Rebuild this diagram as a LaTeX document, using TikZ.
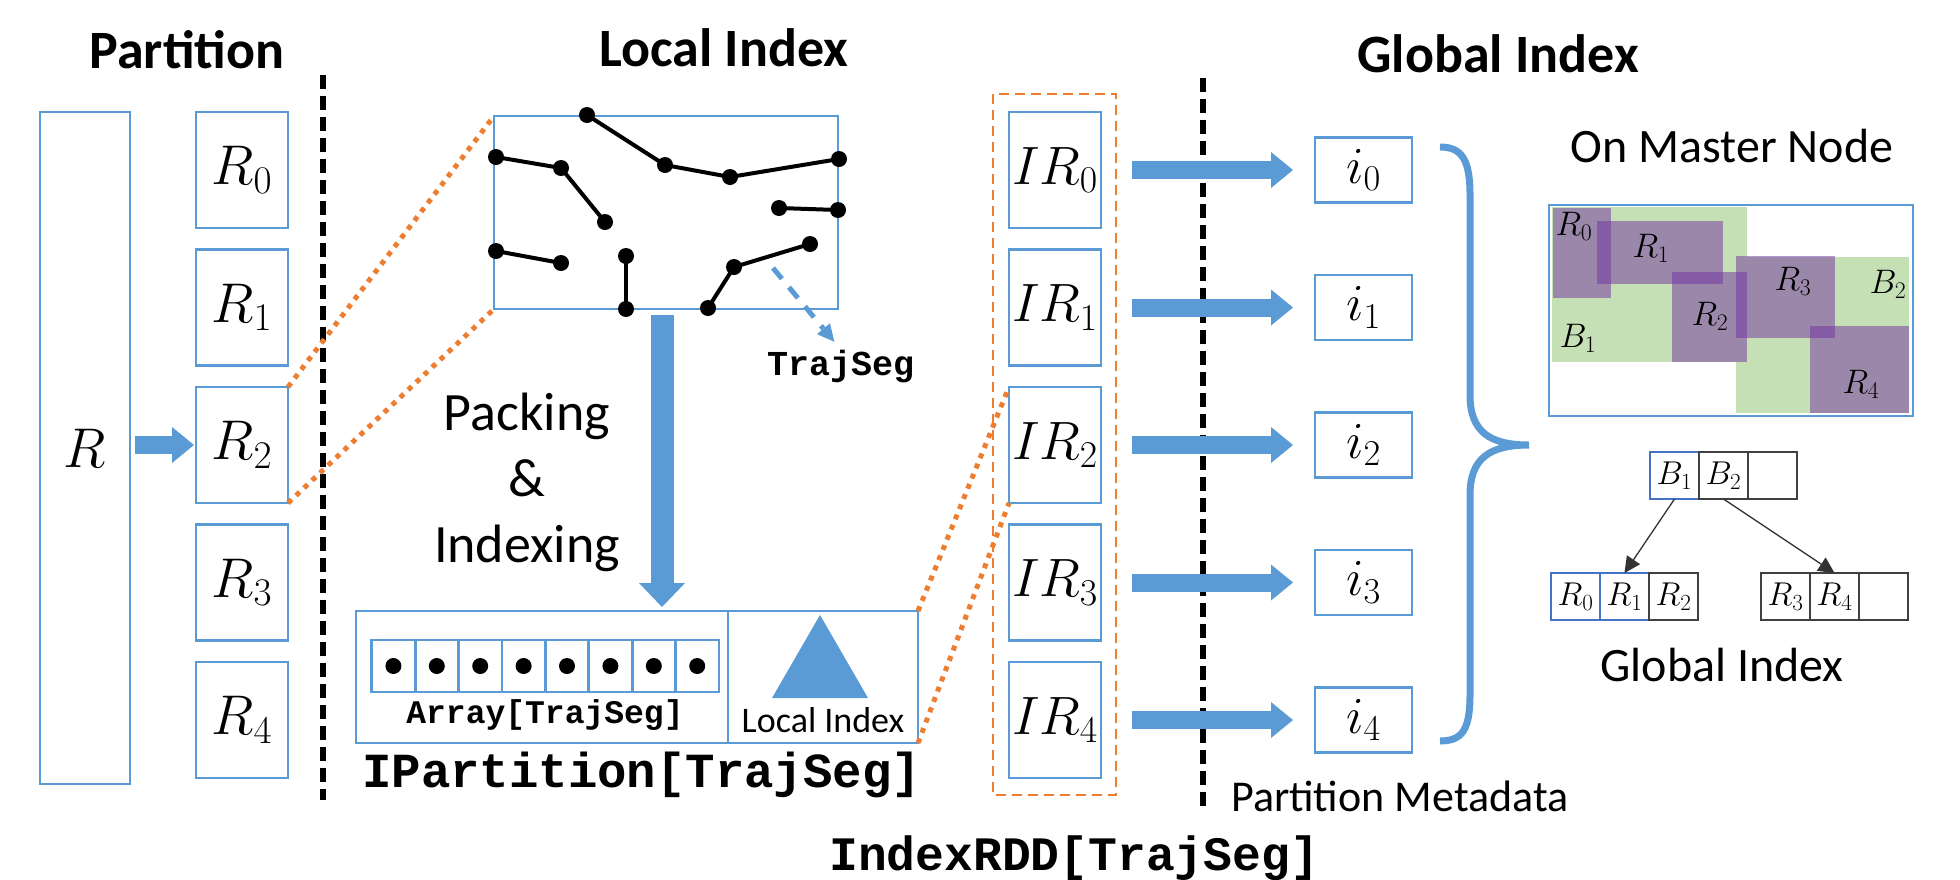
\RequirePackage{fix-cm}
\documentclass[tikz,border=0pt]{standalone}
\usepackage{fontspec}
\setmainfont{Carlito}
\setmonofont{Liberation Mono}
\usepackage{tikz}
\usetikzlibrary{arrows.meta, positioning, calc}
\definecolor{boxblue}{RGB}{91,155,213}
\definecolor{dotorange}{RGB}{237,125,49}
\definecolor{mbrgreen}{RGB}{197,224,180}
\definecolor{mbrpurple}{RGB}{112,48,160}
\definecolor{treeblue}{RGB}{68,114,196}
\newcommand{\fsz}[2]{\fontsize{#1}{#2}\selectfont}

\begin{document}
\begin{tikzpicture}[x=1pt,y=-1pt,
  box/.style={draw=boxblue,line width=2.6pt,inner sep=0pt,outer sep=0pt},
  rbox/.style={box,minimum width=92pt,minimum height=116pt,font=\fsz{56}{60}},
  ibox/.style={box,minimum width=97pt,minimum height=65pt,font=\fsz{52}{56}},
  cell/.style={draw=#1,line width=1.3pt,minimum width=49pt,minimum height=47pt,
    inner sep=0pt,outer sep=0pt,font=\fsz{33}{36}},
  cell/.default={black!75},
  lbl/.style={inner sep=0pt,anchor=base},
  title/.style={lbl,font=\fsz{54}{60}\bfseries},
  code/.style={lbl,font=\fsz{#1}{#1}\ttfamily\bfseries},
  maplbl/.style={font=\fsz{34}{36}},
  fat/.style={draw=boxblue,line width=18pt,
    -{Triangle[width=36pt,length=22pt,line width=0pt]}},
  fatdown/.style={draw=boxblue,line width=23pt,
    -{Triangle[width=46pt,length=24pt,line width=0pt]}},
  dasharr/.style={draw=boxblue,line width=5pt,dash pattern=on 14pt off 11pt,
    -{Triangle[width=17pt,length=17pt,line width=0pt]}},
  sep/.style={line width=6pt,dash pattern=on 14pt off 7pt},
  orangedot/.style={draw=dotorange,line width=5pt,dash pattern=on 5pt off 6pt},
  orangedash/.style={draw=dotorange,line width=2.4pt,dash pattern=on 10pt off 6pt},
  seg/.style={line width=4pt},
  brace/.style={draw=boxblue,line width=7pt},
  treearr/.style={draw=black!80,line width=1.3pt,
    -{Triangle[width=16pt,length=16pt,line width=0pt]}}]
  \useasboundingbox (0,0) rectangle (1960,879);
  %% titles and separators
  \node[title](ptitle) at (187,68){Partition};
  \node[title](ltitle) at (724,66){Local Index};
  \node[title](gtitle) at (1498,72){Global Index};
  \draw[sep](323,75)--(323,800);
  \draw[sep](1203,78)--(1203,813);
  %% partition
  \node[box,minimum width=90pt,minimum height=672pt,font=\fsz{56}{60}](R) at (85,448){$R$};
  \node[rbox](R0) at (242,170){$R_0$};
  \node[rbox,below=21.5pt of R0](R1){$R_1$};
  \node[rbox,below=21.5pt of R1](R2){$R_2$};
  \node[rbox,below=21.5pt of R2](R3){$R_3$};
  \node[rbox,below=21.5pt of R3](R4){$R_4$};
  \draw[fat,shorten <=5pt,shorten >=2pt](R.east |- R2.west)--(R2.west);
  %% local index
  \node[box,minimum width=344pt,minimum height=193pt](traj) at (666,212.5){};
  \draw[orangedot](R2.north east)--(traj.north west);
  \draw[orangedot](R2.south east)--(traj.south west);
  \draw[seg](587,115)--(665,165)--(730,177)--(839,159);
  \draw[seg](496,157)--(561,168)--(605,222);
  \draw[seg](779,208)--(838,210);
  \draw[seg](496,251)--(561,263);
  \draw[seg](626,256)--(626,309);
  \draw[seg](708,308)--(734,267)--(810,244);
  \foreach \p in {(587,115),(665,165),(730,177),(839,159),(496,157),(561,168),
    (605,222),(779,208),(838,210),(496,251),(561,263),(626,256),(626,309),
    (708,308),(734,267),(810,244)}
    \fill \p circle (8pt);
  \coordinate(segtail) at (773,268);
  \node[code=35,anchor=base west](seglbl) at (767,375){TrajSeg};
  \draw[dasharr,shorten >=10pt](segtail)--(seglbl.north);
  \node[font=\fsz{54}{66},align=center](packlbl) at (527,482){Packing\\\&\\Indexing};
  %% IPartition
  \node[box,minimum width=372pt,minimum height=132pt](parr) at (542,677){};
  \node[box,minimum width=190pt,minimum height=132pt,right=0pt of parr](plidx){};
  \coordinate(dtop) at ([xshift=-4pt]traj.south);
  \draw[fatdown,shorten <=6pt,shorten >=4pt](dtop)--(dtop |- parr.north);
  \foreach \k in {0,...,7}{
    \node[box,line width=2.8pt,minimum width=43.4pt,minimum height=52pt](c\k) at ({393.4+43.4*\k},666){};
    \fill (c\k) circle (8pt);
  }
  \fill[boxblue](772,698)--(868,698)--(820,615)--cycle;
  \node[code=33](arrlbl) at (545,723){Array[TrajSeg]};
  \node[lbl,font=\fsz{36}{40}](lidxlbl) at (plidx |- 0,732){Local Index};
  \node[code=49,anchor=base west](iplbl) at (362,787){IPartition[TrajSeg]};
  %% IndexRDD
  \node[rbox,font=\fsz{54}{58}](IR0) at (1055,170){$IR_0$};
  \node[rbox,font=\fsz{54}{58},below=21.5pt of IR0](IR1){$IR_1$};
  \node[rbox,font=\fsz{54}{58},below=21.5pt of IR1](IR2){$IR_2$};
  \node[rbox,font=\fsz{54}{58},below=21.5pt of IR2](IR3){$IR_3$};
  \node[rbox,font=\fsz{54}{58},below=21.5pt of IR3](IR4){$IR_4$};
  \draw[orangedot](plidx.north east)--(IR2.north west);
  \draw[orangedot](plidx.south east)--(IR2.south west);
  \draw[orangedash]($(IR0.north west)+(-16,-18)$)rectangle($(IR4.south east)+(15,17)$);
  \node[code=48,anchor=base west](rddlbl) at (829,870){IndexRDD[TrajSeg]};
  %% global index
  \foreach \k in {0,...,4}{
    \node[ibox,right=214pt of IR\k](i\k){$i_\k$};
    \draw[fat,shorten <=31pt,shorten >=22pt](IR\k.east)--(i\k.west);
  }
  \node[lbl,font=\fsz{44}{48},anchor=base west](pmeta) at (1231,811){Partition Metadata};
  \draw[brace](1440,147) .. controls (1462,147) and (1470,160) .. (1470,195)--(1470,395)
    .. controls (1470,432) and (1490,445) .. (1529,445)
    .. controls (1490,445) and (1470,458) .. (1470,495)--(1470,695)
    .. controls (1470,730) and (1462,741) .. (1440,741);
  %% master node
  \node[lbl,font=\fsz{48}{52}](mlbl) at (1732,162){On Master Node};
  \fill[mbrgreen](1552,207)rectangle(1747,362);
  \fill[mbrgreen](1736,257)rectangle(1909,413);
  \fill[mbrpurple,opacity=.5](1553,208)rectangle(1611,298);
  \fill[mbrpurple,opacity=.5](1597,221)rectangle(1723,284);
  \fill[mbrpurple,opacity=.5](1672,272)rectangle(1747,362);
  \fill[mbrpurple,opacity=.5](1736,256)rectangle(1835,338);
  \fill[mbrpurple,opacity=.5](1810,326)rectangle(1909,413);
  \node[maplbl](mR0) at (1574,226){$R_0$};
  \node[maplbl](mR1) at (1651,248){$R_1$};
  \node[maplbl](mR2) at (1710,316){$R_2$};
  \node[maplbl](mR3) at (1793,281){$R_3$};
  \node[maplbl](mR4) at (1861,384){$R_4$};
  \node[maplbl](mB1) at (1578,338){$B_1$};
  \node[maplbl](mB2) at (1888,284){$B_2$};
  \node[box,minimum width=364pt,minimum height=211pt](map) at (1731,310.5){};
  %% tree
  \node[cell=treeblue](rt1) at (1674.5,475.5){$B_1$};
  \node[cell,right=0pt of rt1](rt2){$B_2$};
  \node[cell,right=0pt of rt2](rt3){};
  \node[cell=treeblue](lf1) at (1575.5,596.5){$R_0$};
  \node[cell=treeblue,right=0pt of lf1](lf2){$R_1$};
  \node[cell,right=0pt of lf2](lf3){$R_2$};
  \node[cell](rf1) at (1785.5,596.5){$R_3$};
  \node[cell,right=0pt of rf1](rf2){$R_4$};
  \node[cell,right=0pt of rf2](rf3){};
  \draw[treearr](rt1.south)--(lf2.north);
  \draw[treearr](rt2.south)--(rf2.north);
  \node[lbl,font=\fsz{48}{52}](glbl) at (1722,681){Global Index};
\end{tikzpicture}
\end{document}
